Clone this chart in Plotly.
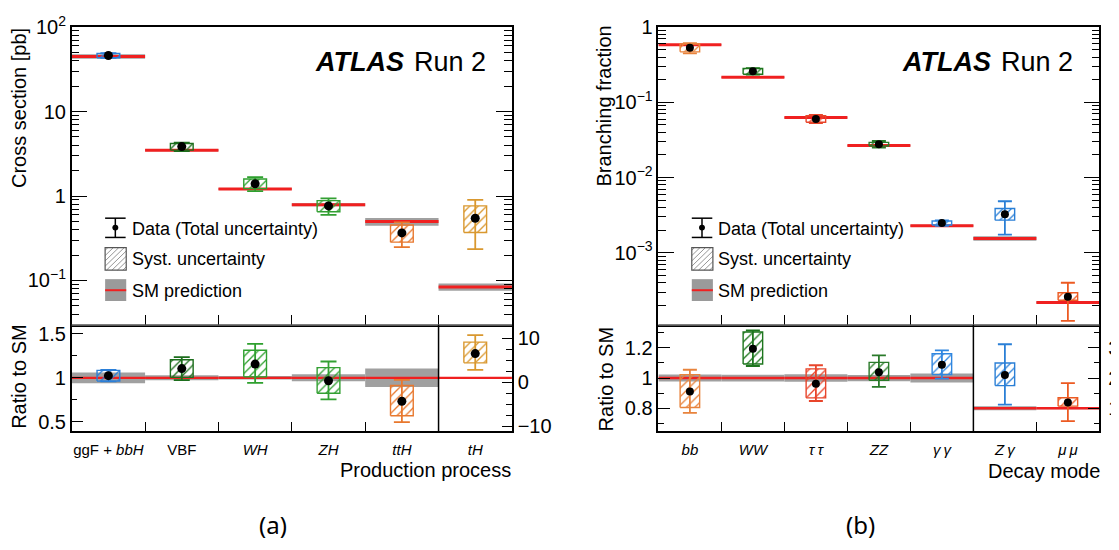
import plotly.graph_objects as go

# The page body has an 8 px margin; the figure is laid out in reference pixel
# coordinates and shifted by that margin.
OFF = 8
FW, FH = 1119 - OFF, 550 - OFF

# ---------------- data: (a) production processes ----------------
prod_labels = ["ggF + <i>bbH</i>", "VBF", "<i>WH</i>", "<i>ZH</i>", "<i>ttH</i>", "<i>tH</i>"]
prod_colors = ["#2b7fd8", "#1d6e1d", "#2ea02e", "#33a033", "#e8782e", "#d9982f"]
prod_sm = [45.0, 3.48, 1.21, 0.79, 0.498, 0.084]            # SM cross section [pb]
prod_sm_rel = [0.06, 0.028, 0.02, 0.04, 0.105, 0.10]        # SM relative uncertainty
prod_mu = [1.025, 1.105, 1.156, 0.967, 0.735, 6.5]          # ratio to SM
prod_tot_up = [0.065, 0.13, 0.229, 0.218, 0.243, 4.2]
prod_tot_dn = [0.065, 0.13, 0.214, 0.211, 0.237, 3.7]
prod_syst_up = [0.06, 0.10, 0.157, 0.149, 0.178, 2.6]
prod_syst_dn = [0.062, 0.10, 0.145, 0.142, 0.164, 2.1]
prod_on_right_axis = [False, False, False, False, False, True]

# ---------------- data: (b) decay modes ----------------
dec_labels = ["<i>bb</i>", "<i>WW</i>", "<i>τ\u2009τ</i>", "<i>ZZ</i>", "<i>γ\u2009γ</i>", "<i>Z\u2009γ</i>",
              "<i>μ\u2009μ</i>"]
dec_colors = ["#e8833c", "#1d761d", "#e8452b", "#2a7a2a", "#2f86e0", "#2a7fd6", "#ec5a22"]
dec_sm = [0.582, 0.216, 0.0626, 0.0266, 0.00228, 0.00155, 0.000218]
dec_sm_rel = [0.023, 0.022, 0.025, 0.021, 0.03, 0.07, 0.03]
dec_mu = [0.911, 1.195, 0.962, 1.038, 1.089, 2.10, 1.19]
dec_tot_up = [0.144, 0.12, 0.123, 0.112, 0.095, 1.02, 0.64]
dec_tot_dn = [0.142, 0.115, 0.114, 0.097, 0.093, 0.98, 0.62]
dec_syst_up = [0.112, 0.11, 0.099, 0.066, 0.072, 0.40, 0.16]
dec_syst_dn = [0.106, 0.102, 0.093, 0.053, 0.066, 0.35, 0.12]
dec_on_right_axis = [False, False, False, False, False, True, True]

# tick labels
prod_ytickvals = [0.1, 1, 10, 100]
prod_yticktext = ["10<sup>−1</sup>", "1", "10", "10<sup>2</sup>"]
dec_ytickvals = [0.001, 0.01, 0.1, 1]
dec_yticktext = ["10<sup>−3</sup>", "10<sup>−2</sup>", "10<sup>−1</sup>", "1"]

FONT = "Liberation Sans, Arial, Helvetica, sans-serif"
GRAY = "#a0a0a0"
RED = "#f02020"
HW = 0.155  # half width of syst box in bin units


def px(x):
    return (x - OFF) / FW


def py(y):
    return 1 - (y - OFF) / FH


# frame geometry (reference pixels)
LX0, LX1 = 72.3, 516.5
RX0, RX1 = 664.3, 1109.3
TY0, TY1 = 13.3, 322.7
RY1 = 432.7

fig = go.Figure()


def box_xy(i, lo, hi, hw):
    return [i - hw, i + hw, i + hw, i - hw, i - hw], [lo, lo, hi, hi, lo]


def add_panel(xa, ya_list, sm_list, rel, mu, tu, td, su, sd, colors, red_w, cap, msize):
    n = len(mu)
    for i in range(n):
        ya, s = ya_list[i], sm_list[i]
        x, y = box_xy(i, s * (1 - rel[i]), s * (1 + rel[i]), 0.5)
        fig.add_trace(go.Scatter(x=x, y=y, mode="lines", fill="toself", fillcolor=GRAY,
                                 line=dict(width=0), xaxis=xa, yaxis=ya, hoverinfo="skip"))
    for i in range(n):
        ya, s = ya_list[i], sm_list[i]
        fig.add_trace(go.Scatter(x=[i - 0.5, i + 0.5], y=[s, s], mode="lines",
                                 line=dict(color=RED, width=red_w), xaxis=xa, yaxis=ya, hoverinfo="skip"))
    for i in range(n):
        ya, s = ya_list[i], sm_list[i]
        x, y = box_xy(i, s * (mu[i] - sd[i]), s * (mu[i] + su[i]), HW)
        fig.add_trace(go.Scatter(x=x, y=y, mode="lines", fill="toself", fillcolor="rgba(0,0,0,0)",
                                 fillpattern=dict(shape="/", fgcolor=colors[i], bgcolor="rgba(0,0,0,0)",
                                                  size=6, solidity=0.22, fillmode="replace"),
                                 line=dict(color=colors[i], width=1.4), xaxis=xa, yaxis=ya, hoverinfo="skip"))
    for i in range(n):
        ya, s = ya_list[i], sm_list[i]
        fig.add_trace(go.Scatter(x=[i], y=[s * mu[i]], mode="markers",
                                 marker=dict(color="black", size=msize),
                                 error_y=dict(type="data", symmetric=False, array=[s * tu[i]],
                                              arrayminus=[s * td[i]], color=colors[i], thickness=1.8, width=cap),
                                 xaxis=xa, yaxis=ya, hoverinfo="skip"))


add_panel("x", ["y"] * len(prod_mu), prod_sm, prod_sm_rel, prod_mu, prod_tot_up, prod_tot_dn,
          prod_syst_up, prod_syst_dn, prod_colors, 3, 8, 9)
add_panel("x2", ["y3" if r else "y2" for r in prod_on_right_axis], [1.0] * len(prod_mu), prod_sm_rel,
          prod_mu, prod_tot_up, prod_tot_dn, prod_syst_up, prod_syst_dn, prod_colors, 2.4, 8, 9)
add_panel("x3", ["y4"] * len(dec_mu), dec_sm, dec_sm_rel, dec_mu, dec_tot_up, dec_tot_dn,
          dec_syst_up, dec_syst_dn, dec_colors, 3, 7, 8)
add_panel("x4", ["y6" if r else "y5" for r in dec_on_right_axis], [1.0] * len(dec_mu), dec_sm_rel,
          dec_mu, dec_tot_up, dec_tot_dn, dec_syst_up, dec_syst_dn, dec_colors, 2.4, 7, 8)

tickfont = dict(family=FONT, size=20, color="black")
catfont = dict(family=FONT, size=15, color="black")
base_ax = dict(showgrid=False, zeroline=False, showline=True, linecolor="black", linewidth=1.5,
               tickcolor="black", tickwidth=1.4)
yax = dict(base_ax, ticklabeloverflow="allow")


def minor(vals, ln):
    return dict(tickmode="array", tickvals=vals, ticks="inside", ticklen=ln, tickcolor="black", tickwidth=1.2)


def log_minors(lo_exp, hi_exp):
    out = []
    for e in range(lo_exp, hi_exp):
        for k in range(2, 10):
            out.append(k * 10.0 ** e)
    return out


n_a, n_b = len(prod_mu), len(dec_mu)
bound_a = [i + 0.5 for i in range(n_a - 1)]
bound_b = [i + 0.5 for i in range(n_b - 1)]

fig.update_layout(
    width=FW, height=FH, margin=dict(l=0, r=0, t=0, b=0), autosize=False,
    paper_bgcolor="white", plot_bgcolor="rgba(0,0,0,0)", showlegend=False,
    xaxis=dict(base_ax, domain=[px(LX0), px(LX1)], range=[-0.5, n_a - 0.5], anchor="y", mirror=True,
               tickmode="array", tickvals=bound_a, ticks="inside", ticklen=10, showticklabels=False),
    yaxis=dict(yax, type="log", domain=[py(TY1), py(TY0)], range=[-1.528, 2.0], anchor="x",
               mirror="ticks", tickmode="array", tickvals=prod_ytickvals, ticktext=prod_yticktext,
               ticks="inside", ticklen=16, tickfont=tickfont, minor=minor(log_minors(-2, 2), 8)),
    xaxis2=dict(base_ax, domain=[px(LX0), px(LX1)], range=[-0.5, n_a - 0.5], anchor="y2",
                tickmode="array", tickvals=list(range(n_a)), ticktext=prod_labels, ticks="",
                tickfont=catfont, ticklabelstandoff=4, minor=minor(bound_a, 9)),
    yaxis2=dict(yax, domain=[py(RY1), py(TY1)], range=[0.397, 1.598], anchor="x2",
                tickmode="array", tickvals=[0.5, 1, 1.5], ticktext=["0.5", "1", "1.5"],
                ticks="inside", ticklen=12, tickfont=tickfont, minor=minor([0.75, 1.25], 6)),
    yaxis3=dict(yax, overlaying="y2", side="right", anchor="x2", range=[-11.06, 12.96],
                tickmode="array", tickvals=[-10, 0, 10], ticktext=["−10", "0", "10"],
                ticks="inside", ticklen=10, tickfont=tickfont,
                minor=minor([-7.5, -5, -2.5, 2.5, 5, 7.5], 6)),
    xaxis3=dict(base_ax, domain=[px(RX0), px(RX1)], range=[-0.5, n_b - 0.5], anchor="y4", mirror=True,
                tickmode="array", tickvals=bound_b, ticks="inside", ticklen=10, showticklabels=False),
    yaxis4=dict(yax, type="log", domain=[py(TY1), py(TY0)], range=[-3.962, 0.0], anchor="x3",
                mirror="ticks", tickmode="array", tickvals=dec_ytickvals, ticktext=dec_yticktext,
                ticks="inside", ticklen=16, tickfont=tickfont, minor=minor(log_minors(-4, 0), 8)),
    xaxis4=dict(base_ax, domain=[px(RX0), px(RX1)], range=[-0.5, n_b - 0.5], anchor="y5",
                tickmode="array", tickvals=list(range(n_b)), ticktext=dec_labels, ticks="",
                tickfont=catfont, ticklabelstandoff=4, minor=minor(bound_b, 9)),
    yaxis5=dict(yax, domain=[py(RY1), py(TY1)], range=[0.649, 1.351], anchor="x4",
                tickmode="array", tickvals=[0.8, 1, 1.2], ticktext=["0.8", "1", "1.2"],
                ticks="inside", ticklen=12, tickfont=tickfont, minor=minor([0.7, 0.9, 1.1, 1.3], 6)),
    yaxis6=dict(yax, overlaying="y5", side="right", anchor="x4", range=[0.245, 3.755],
                tickmode="array", tickvals=[1, 2, 3], ticktext=["1", "2", "3"], ticklabelstandoff=3,
                ticks="inside", ticklen=12, tickfont=tickfont, minor=minor([0.5, 1.5, 2.5, 3.5], 6)),
)

shapes = []
for x0, x1 in ((LX0, LX1), (RX0, RX1)):
    shapes.append(dict(type="line", xref="paper", yref="paper", x0=px(x0), x1=px(x1), y0=py(TY1), y1=py(TY1),
                       line=dict(color="#555555", width=1.6), layer="above"))
shapes.append(dict(type="line", xref="x2", yref="y2 domain", x0=n_a - 1.5, x1=n_a - 1.5, y0=0, y1=1,
                   line=dict(color="black", width=1.5)))
shapes.append(dict(type="line", xref="x4", yref="y5 domain", x0=n_b - 2.5, x1=n_b - 2.5, y0=0, y1=1,
                   line=dict(color="black", width=1.5)))

annotations = []


def text(x, y, s, size=18, xanchor="left", yanchor="middle", angle=0, family=FONT):
    annotations.append(dict(x=px(x), y=py(y), xref="paper", yref="paper", text=s, showarrow=False,
                            xanchor=xanchor, yanchor=yanchor, textangle=angle,
                            font=dict(family=family, size=size, color="black"), borderpad=0))


def legend(dx):
    cx = 116.3 + dx
    shapes.append(dict(type="line", xref="paper", yref="paper", x0=px(cx), x1=px(cx), y0=py(211.7), y1=py(231.7),
                       line=dict(color="black", width=1.5)))
    for yy in (211.7, 231.7):
        shapes.append(dict(type="line", xref="paper", yref="paper", x0=px(106 + dx), x1=px(126.7 + dx),
                           y0=py(yy), y1=py(yy), line=dict(color="black", width=1.5)))
    r = 3.0
    shapes.append(dict(type="circle", xref="paper", yref="paper", x0=px(cx - r), x1=px(cx + r),
                       y0=py(221.5 + r), y1=py(221.5 - r), fillcolor="black", line=dict(color="black", width=0)))
    text(131.7 + dx, 223, "Data (Total uncertainty)")
    bx0, bx1, by0, by1 = 106 + dx, 127.3 + dx, 242.3, 265.7
    step = 5.5
    c = bx0 + by0 + step / 2
    while c < bx1 + by1:
        xs = max(bx0, c - by1)
        xe = min(bx1, c - by0)
        if xe > xs:
            shapes.append(dict(type="line", xref="paper", yref="paper", x0=px(xs), x1=px(xe),
                               y0=py(c - xs), y1=py(c - xe), line=dict(color="#8a8a8a", width=0.9)))
        c += step
    shapes.append(dict(type="rect", xref="paper", yref="paper", x0=px(bx0), x1=px(bx1), y0=py(by1), y1=py(by0),
                       line=dict(color="#555555", width=1.2)))
    text(131.7 + dx, 254.3, "Syst. uncertainty")
    shapes.append(dict(type="rect", xref="paper", yref="paper", x0=px(106 + dx), x1=px(127.3 + dx),
                       y0=py(297.7), y1=py(275), fillcolor="#9a9a9a", line=dict(width=0)))
    shapes.append(dict(type="line", xref="paper", yref="paper", x0=px(106 + dx), x1=px(127.3 + dx),
                       y0=py(286.5), y1=py(286.5), line=dict(color=RED, width=2)))
    text(131.7 + dx, 287.3, "SM prediction")
    text(316.7 + dx, 50, "<b><i>ATLAS</i></b>", size=27)
    text(416.7 + dx, 50, "Run 2", size=27)


legend(0)
legend(RX0 - LX0)

text(19, 13.3, "Cross section [pb]", size=20, xanchor="center", yanchor="top", angle=-90)
text(19, 321.5, "Ratio to SM", size=20, xanchor="center", yanchor="top", angle=-90)
text(609, 10.5, "Branching fraction", size=20, xanchor="center", yanchor="top", angle=-90)
text(611, 324.5, "Ratio to SM", size=20, xanchor="center", yanchor="top", angle=-90)
text(LX1, 473.5, "Production process", size=20, xanchor="right")
text(RX1 + 2, 474, "Decay mode", size=20, xanchor="right")
text(275.5, 530, "(a)", size=24, xanchor="center", family="Noto Sans, DejaVu Sans, sans-serif")
text(868.5, 530, "(b)", size=24, xanchor="center", family="Noto Sans, DejaVu Sans, sans-serif")

fig.update_layout(shapes=shapes, annotations=annotations)
fig.write_html("out.html")
